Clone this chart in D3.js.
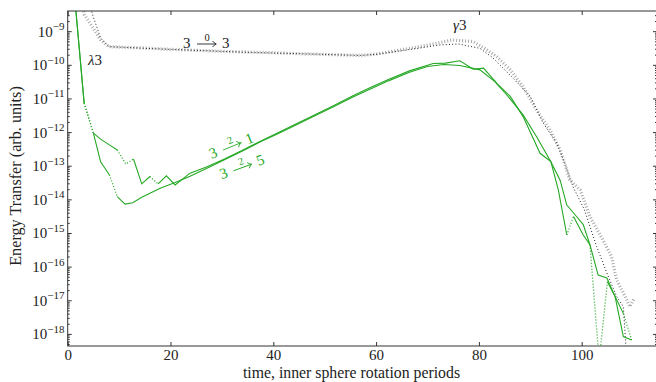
<!DOCTYPE html>
<html>
<head>
<meta charset="utf-8">
<script src="https://cdn.jsdelivr.net/npm/d3@7"></script>
<style>
  body { margin: 0; background: #fff; }
</style>
</head>
<body>
<svg id="chart" width="656" height="382" font-family="'Liberation Serif', 'DejaVu Serif', serif"></svg>
<script>
// Values: [time, log10 |energy transfer|, sign]
// (negative transfer is drawn dotted, as in the original)
const gray33 = [
  [1.6, -7.0], [3.2, -8.5], [4.8, -8.87], [6.4, -9.26], [8.0, -9.46], [11, -9.48], [15, -9.50],
  [20, -9.54], [25, -9.57], [30, -9.60], [35, -9.62], [40, -9.64], [45, -9.67], [50, -9.69],
  [54, -9.71], [57, -9.72], [60, -9.68], [64, -9.58], [68.5, -9.46], [72, -9.35], [74.8, -9.26],
  [78.9, -9.31], [81, -9.50], [83.5, -9.76], [86.1, -10.15], [88.6, -10.65], [91.2, -11.34],
  [93.8, -11.93], [95.8, -12.53], [97.7, -13.42], [99.7, -13.72], [101.6, -14.51], [104.1, -15.20],
  [105.8, -15.70], [106.8, -16.40], [107.8, -16.69], [109.4, -17.19], [110.2, -16.95]
];
const black33 = [
  [3.2, -7.3], [4.8, -8.5], [6.4, -9.2], [8.0, -9.46], [11, -9.48], [15, -9.51], [20, -9.54],
  [25, -9.57], [30, -9.60], [35, -9.63], [40, -9.65], [45, -9.67], [50, -9.69], [54, -9.71],
  [57, -9.72], [60, -9.69], [64, -9.60], [68.5, -9.50], [72.4, -9.41], [76, -9.38], [80.2, -9.51],
  [82.7, -9.79], [86.6, -10.39], [90.0, -10.94], [92.5, -11.73], [95.1, -12.32], [96.7, -12.92],
  [98.3, -13.62], [100.5, -14.30], [102.9, -15.40], [104.9, -16.19], [106.8, -16.89],
  [108.1, -17.19], [108.7, -18.6]
];
const tr31 = [
  [0, -6.0, 1], [1.6, -8.4, 1], [3.2, -11.14, 1], [5.0, -12.03, -1], [6.4, -12.21, 1],
  [8.1, -12.38, 1], [9.65, -12.53, 1], [11.3, -12.95, -1], [12.8, -12.80, -1], [14.4, -13.54, 1],
  [16.0, -13.32, 1], [17.6, -13.54, -1], [19.2, -13.30, 1], [20.9, -13.57, 1], [23.8, -13.22, 1],
  [27.0, -13.04, 1], [30.5, -12.80, 1], [34.0, -12.54, 1], [37.5, -12.27, 1], [41.0, -12.01, 1],
  [44.5, -11.75, 1], [48.0, -11.49, 1], [51.5, -11.23, 1], [55.5, -10.92, 1], [59.0, -10.67, 1],
  [62.5, -10.43, 1], [66.5, -10.18, 1], [71.1, -9.96, 1], [73.5, -9.95, 1], [76.3, -9.88, 1],
  [78.9, -10.13, 1], [80.9, -10.10, 1], [83.8, -10.60, 1], [86.1, -10.94, 1], [88.6, -11.54, 1],
  [91.9, -12.63, 1], [94.0, -12.88, 1], [95.45, -13.72, 1], [97.1, -15.06, 1], [98.4, -14.51, -1],
  [100.3, -15.06, 1], [101.6, -15.35, 1], [103.4, -18.8, -1], [105.0, -16.45, -1],
  [106.5, -16.89, 1], [108.1, -17.39, 1], [109.7, -18.18, -1]
];
const tr35 = [
  [0, -6.0, 1], [1.6, -8.4, 1], [3.2, -11.14, 1], [5.0, -12.03, -1], [6.4, -12.88, 1],
  [8.1, -13.27, 1], [9.65, -13.92, -1], [11.15, -14.14, 1], [12.65, -14.10, 1], [14.4, -13.94, 1],
  [18.0, -13.67, 1], [20.9, -13.50, 1], [23.8, -13.31, 1], [27.0, -13.08, 1], [30.5, -12.82, 1],
  [34.0, -12.56, 1], [37.5, -12.29, 1], [41.0, -12.04, 1], [44.5, -11.78, 1], [48.0, -11.52, 1],
  [51.5, -11.26, 1], [55.5, -10.96, 1], [59.0, -10.71, 1], [62.5, -10.47, 1], [66.5, -10.22, 1],
  [70.0, -10.05, 1], [73.2, -9.99, 1], [76.3, -10.02, 1], [80.2, -10.15, 1], [83.1, -10.50, 1],
  [85.4, -10.89, 1], [88.6, -11.49, 1], [91.2, -12.13, 1], [94.0, -12.88, 1], [95.8, -13.43, 1],
  [97.1, -14.17, 1], [99.0, -14.51, 1], [100.3, -14.75, 1], [101.6, -15.35, 1], [103.2, -16.25, 1],
  [104.9, -16.34, 1], [106.5, -16.89, 1], [108.1, -18.08, 1], [109.7, -18.18, 1]
];
const xTicks = [0, 20, 40, 60, 80, 100];
const yDecades = d3.range(-18, -8); // exponents -18 .. -9

// Plot box
const box = { left: 67.7, right: 657, top: 11, bottom: 346 };
const svg = d3.select("#chart");
const serif = "'Liberation Serif', 'DejaVu Serif', serif";

const x = d3.scaleLinear().domain([0, 114.65]).range([box.left, box.right]);
const y = d3.scaleLog().domain([Math.pow(10, -18.36), Math.pow(10, -8.4)]).range([box.bottom, box.top]);

const green = "#25a825";
const ink = "#222";

svg.append("clipPath").attr("id", "clip")
  .append("rect")
  .attr("x", box.left).attr("y", box.top)
  .attr("width", box.right - box.left).attr("height", box.bottom - box.top);

const plotGroup = svg.append("g").attr("clip-path", "url(#clip)");

const line = d3.line()
  .x(d => x(d[0]))
  .y(d => y(Math.pow(10, d[1])));

// The gray / black 3 -> 3 transfers, both dotted.
plotGroup.append("path")
  .attr("d", line(gray33))
  .attr("fill", "none")
  .attr("stroke", "#a8a8a8")
  .attr("stroke-width", 3.2)
  .attr("stroke-dasharray", "1,2");
plotGroup.append("path")
  .attr("d", line(black33))
  .attr("fill", "none")
  .attr("stroke", ink)
  .attr("stroke-width", 1)
  .attr("stroke-dasharray", "1,2.2");

// Green transfers: split into runs, solid where positive and dotted where negative.
function drawSigned(data) {
  const runs = [];
  for (let i = 1; i < data.length; i++) {
    const dotted = data[i][2] < 0;
    const last = runs[runs.length - 1];
    if (last && last.dotted === dotted) last.pts.push(data[i]);
    else runs.push({ dotted, pts: [data[i - 1], data[i]] });
  }
  runs.forEach(r => {
    plotGroup.append("path")
      .attr("d", line(r.pts))
      .attr("fill", "none")
      .attr("stroke", green)
      .attr("stroke-width", r.dotted ? 1.3 : 1.1)
      .attr("stroke-dasharray", r.dotted ? "1,2" : null);
  });
}
drawSigned(tr31);
drawSigned(tr35);

// Axes: ticks pointing inward on all four sides.
const minors = [];
yDecades.concat([-19]).forEach(e => {
  for (let m = 2; m <= 9; m++) minors.push(m * Math.pow(10, e));
});
const minorsIn = minors.filter(v => v >= y.domain()[0] && v <= y.domain()[1]);
const majors = yDecades.map(e => Math.pow(10, e));

function styleAxis(g) {
  g.select(".domain").remove();
  g.selectAll(".tick line").attr("stroke", "#333");
}

svg.append("g")
  .attr("transform", `translate(0,${box.bottom})`)
  .call(d3.axisBottom(x).tickValues(xTicks).tickSize(-4).tickPadding(3.5))
  .call(styleAxis)
  .attr("font-family", serif)
  .attr("font-size", 15)
  .selectAll("text").attr("fill", ink);

svg.append("g")
  .attr("transform", `translate(0,${box.top})`)
  .call(d3.axisTop(x).tickValues(xTicks).tickSize(-4).tickFormat(""))
  .call(styleAxis);

[[d3.axisLeft, box.left], [d3.axisRight, box.right]].forEach(([axisFn, pos]) => {
  svg.append("g")
    .attr("transform", `translate(${pos},0)`)
    .call(axisFn(y).tickValues(majors).tickSize(-4).tickFormat(""))
    .call(styleAxis);
  svg.append("g")
    .attr("transform", `translate(${pos},0)`)
    .call(axisFn(y).tickValues(minorsIn).tickSize(-2).tickFormat(""))
    .call(styleAxis);
});

// Y tick labels as 10 with a superscript exponent.
yDecades.forEach(e => {
  const t = svg.append("text")
    .attr("x", 64.5)
    .attr("y", y(Math.pow(10, e)) + 5.5)
    .attr("text-anchor", "end")
    .attr("font-family", serif)
    .attr("fill", ink)
    .attr("font-size", 15);
  t.append("tspan").text("10");
  t.append("tspan")
    .attr("dy", -6.5)
    .attr("font-size", 11)
    .text("\u2212" + Math.abs(e));
});

// Frame
svg.append("rect")
  .attr("x", box.left).attr("y", box.top)
  .attr("width", box.right - box.left).attr("height", box.bottom - box.top)
  .attr("fill", "none")
  .attr("stroke", "#333")
  .attr("stroke-width", 1);

// Axis titles
svg.append("text")
  .attr("x", 351.5).attr("y", 378)
  .attr("text-anchor", "middle")
  .attr("font-family", serif)
  .attr("font-size", 15.8)
  .attr("fill", ink)
  .text("time, inner sphere rotation periods");

svg.append("text")
  .attr("transform", "translate(20.5,176) rotate(-90)")
  .attr("text-anchor", "middle")
  .attr("font-family", serif)
  .attr("font-size", 16.2)
  .attr("fill", ink)
  .text("Energy Transfer (arb. units)");

// "a --k--> b" labels
function transferLabel(px, py, angle, a, k, b, color) {
  const g = svg.append("g")
    .attr("transform", `translate(${px},${py}) rotate(${angle})`)
    .attr("font-family", serif)
    .attr("fill", color);
  g.append("text").attr("x", 0).attr("y", 0).attr("font-size", 15).text(a);
  g.append("path")
    .attr("d", "M14,-4 H33 M29.5,-7 Q31.5,-4.6 33.3,-4 Q31.5,-3.4 29.5,-1")
    .attr("fill", "none")
    .attr("stroke", color)
    .attr("stroke-width", 0.9);
  g.append("text")
    .attr("x", 24).attr("y", -7)
    .attr("text-anchor", "middle")
    .attr("font-size", 10.5)
    .text(k);
  g.append("text").attr("x", 39).attr("y", 0).attr("font-size", 15).text(b);
}
transferLabel(183, 48, 0, "3", "0", "3", ink);
transferLabel(211.5, 159, -22, "3", "2", "1", green);
transferLabel(221.8, 179.3, -20, "3", "2", "5", green);

const lam = svg.append("text").attr("x", 88).attr("y", 65)
  .attr("font-family", serif).attr("font-size", 15).attr("fill", ink);
lam.append("tspan").attr("font-style", "italic").text("\u03bb");
lam.append("tspan").text("3");

const gam = svg.append("text").attr("x", 453).attr("y", 30)
  .attr("font-family", serif).attr("font-size", 15).attr("fill", ink);
gam.append("tspan").attr("font-style", "italic").text("\u03b3");
gam.append("tspan").text("3");
</script>
</body>
</html>
